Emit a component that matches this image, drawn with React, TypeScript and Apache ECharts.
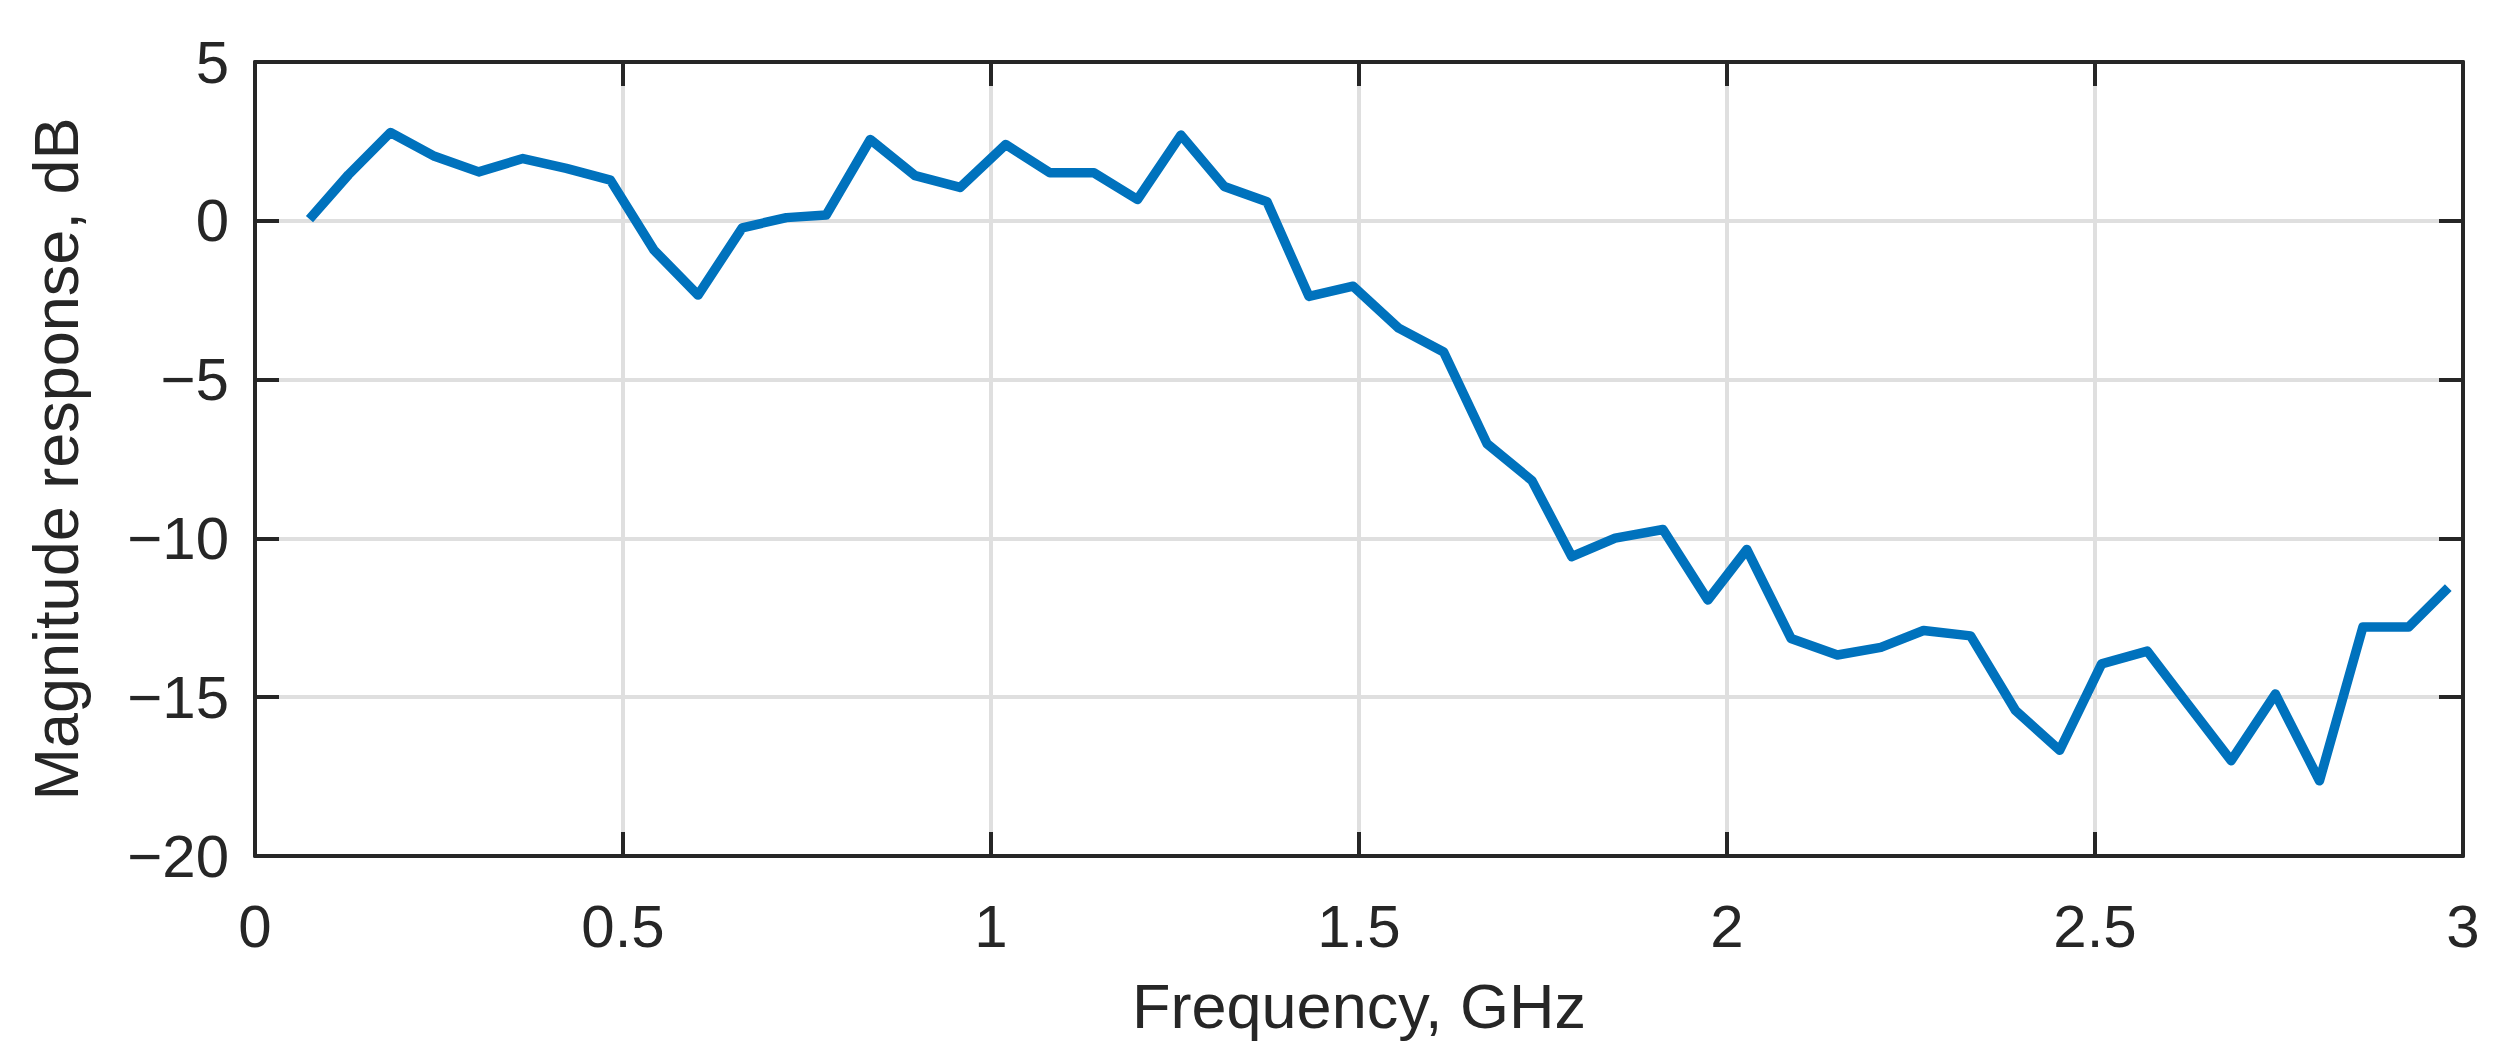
import React, { useEffect, useRef } from "react";
import * as echarts from "echarts";

const frequencyGHz = [
  0.074, 0.127, 0.184, 0.244, 0.304, 0.364, 0.423, 0.483, 0.542, 0.602,
  0.662, 0.722, 0.776, 0.836, 0.897, 0.958, 1.020, 1.080, 1.140, 1.199,
  1.258, 1.317, 1.375, 1.432, 1.492, 1.554, 1.615, 1.674, 1.735, 1.789,
  1.848, 1.913, 1.974, 2.027, 2.087, 2.150, 2.209, 2.267, 2.331, 2.392,
  2.452, 2.509, 2.571, 2.627, 2.685, 2.745, 2.805, 2.864, 2.926, 2.980,
];

const magnitudeDB = [
  0.05, 1.45, 2.78, 2.03, 1.54, 1.96, 1.65, 1.28, -0.92, -2.34,
  -0.22, 0.10, 0.18, 2.56, 1.42, 1.05, 2.40, 1.51, 1.51, 0.67,
  2.70, 1.08, 0.60, -2.38, -2.06, -3.38, -4.13, -7.02, -8.18, -10.57,
  -9.99, -9.72, -11.94, -10.35, -13.15, -13.67, -13.43, -12.90, -13.07, -15.42,
  -16.67, -13.95, -13.55, -15.25, -17.00, -14.90, -17.63, -12.79, -12.79, -11.55,
];

const xTickLabels = ["0", "0.5", "1", "1.5", "2", "2.5", "3"];
const yTickLabels = ["\u221220", "\u221215", "\u221210", "\u22125", "0", "5"];

const xMin = 0, xMax = 3, xStep = 0.5;
const yMin = -20, yMax = 5, yStep = 5;

const FONT = "'Liberation Sans', Arial, Helvetica, sans-serif";
const AXIS_COLOR = "#262626";
const GRID_COLOR = "#dfdfdf";
const LINE_COLOR = "#0072BD";

export default function App() {
  const ref = useRef<HTMLDivElement>(null);

  useEffect(() => {
    if (!ref.current) return;
    const chart = echarts.init(ref.current, undefined, { renderer: "svg" });

    const xFmt = (v: number) => {
      const i = Math.round((v - xMin) / xStep);
      return xTickLabels[i] ?? "";
    };
    const yFmt = (v: number) => {
      const i = Math.round((v - yMin) / yStep);
      return yTickLabels[i] ?? "";
    };

    const axisLine = { show: true, onZero: false, lineStyle: { color: AXIS_COLOR, width: 4 } };
    const axisTick = { show: true, inside: true, length: 24, lineStyle: { color: AXIS_COLOR, width: 4 } };

    chart.setOption({
      animation: false,
      backgroundColor: "#ffffff",
      grid: { left: 255, right: 45, top: 62, bottom: 205, containLabel: false },
      xAxis: [
        {
          type: "value",
          min: xMin,
          max: xMax,
          interval: xStep,
          position: "bottom",
          axisLine,
          axisTick,
          splitLine: { show: true, lineStyle: { color: GRID_COLOR, width: 4 } },
          axisLabel: { show: true, formatter: xFmt, fontSize: 60, color: AXIS_COLOR, fontFamily: FONT, margin: 40 },
          name: "Frequency, GHz",
          nameLocation: "middle",
          nameGap: 118,
          nameTextStyle: { fontSize: 63, color: AXIS_COLOR, fontFamily: FONT },
        },
        {
          type: "value",
          min: xMin,
          max: xMax,
          interval: xStep,
          position: "top",
          axisLine,
          axisTick,
          splitLine: { show: false },
          axisLabel: { show: false },
        },
      ],
      yAxis: [
        {
          type: "value",
          min: yMin,
          max: yMax,
          interval: yStep,
          position: "left",
          axisLine,
          axisTick,
          splitLine: { show: true, lineStyle: { color: GRID_COLOR, width: 4 } },
          axisLabel: { show: true, formatter: yFmt, fontSize: 60, color: AXIS_COLOR, fontFamily: FONT, margin: 26 },
          name: "Magnitude response, dB",
          nameLocation: "middle",
          nameGap: 168,
          nameTextStyle: { fontSize: 63, color: AXIS_COLOR, fontFamily: FONT },
        },
        {
          type: "value",
          min: yMin,
          max: yMax,
          interval: yStep,
          position: "right",
          axisLine,
          axisTick,
          splitLine: { show: false },
          axisLabel: { show: false },
        },
      ],
      series: [
        {
          type: "line",
          xAxisIndex: 0,
          yAxisIndex: 0,
          data: frequencyGHz.map((f, i) => [f, magnitudeDB[i]]),
          showSymbol: false,
          symbol: "none",
          lineStyle: { color: LINE_COLOR, width: 9.5, join: "round", cap: "butt" },
          z: 3,
        },
      ],
    });

    return () => chart.dispose();
  }, []);

  return (
    <div
      ref={ref}
      style={{ position: "fixed", left: 0, top: 0, width: 2508, height: 1061, background: "#fff" }}
    />
  );
}
